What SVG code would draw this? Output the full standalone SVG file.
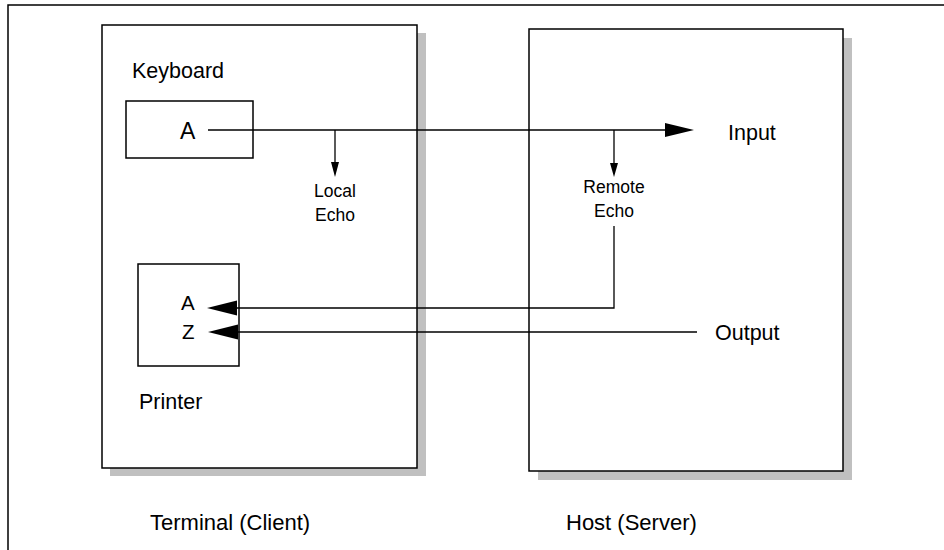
<svg xmlns="http://www.w3.org/2000/svg" width="944" height="550" viewBox="0 0 944 550">
<style>
.box{fill:#fff;stroke:#000;stroke-width:1.5}
.shadow{fill:#c0c0c0}
.ln{fill:none;stroke:#000;stroke-width:1.3}
.ah{fill:#000}
text{font-family:"Liberation Sans",Arial,sans-serif;fill:#000}
.lbl{font-size:21.5px}
.cap{font-size:22px}
.sm{font-size:17.5px}
</style>
<rect width="944" height="550" fill="#fff"/>
<g id="frame"><path d="M8 550 V5 H944" fill="none" stroke="#000" stroke-width="1.5"/></g>
<g id="terminal">
<rect class="shadow" x="110" y="33" width="316" height="443"/>
<rect class="box" x="102" y="25" width="315" height="443"/>
<text class="cap" x="150" y="530">Terminal (Client)</text>
</g>
<g id="host">
<rect class="shadow" x="538" y="38" width="314" height="442"/>
<rect class="box" x="529" y="29" width="314" height="442"/>
<text class="cap" x="566" y="530">Host (Server)</text>
</g>
<g id="keyboard">
<text class="lbl" x="132" y="78">Keyboard</text>
<rect class="box" x="126" y="101" width="127" height="57"/>
<text x="180" y="139" font-size="23">A</text>
</g>
<g id="printer">
<rect class="box" x="138" y="264" width="101" height="102"/>
<text x="181" y="310" font-size="20.5">A</text>
<text x="182" y="339" font-size="20.5">Z</text>
<text class="lbl" x="139" y="409">Printer</text>
</g>
<g id="input"><text class="lbl" x="728" y="140">Input</text></g>
<g id="output"><text class="lbl" x="715" y="340">Output</text></g>
<g id="local-echo"><text class="sm" x="335" y="197" text-anchor="middle">Local</text><text class="sm" x="335" y="221" text-anchor="middle">Echo</text></g>
<g id="remote-echo"><text class="sm" x="614" y="193" text-anchor="middle">Remote</text><text class="sm" x="614" y="217" text-anchor="middle">Echo</text></g>
<g id="connectors">
<path class="ln" d="M208 130 H668"/>
<polygon class="ah" points="694,130 665,123 665,137"/>
<path class="ln" d="M335 130 V164"/>
<polygon class="ah" points="335,177 331,162 339,162"/>
<path class="ln" d="M614 130 V164"/>
<polygon class="ah" points="614,177 610,163 618,163"/>
<path class="ln" d="M614 226 V308 H234"/>
<polygon class="ah" points="207,308 237,300.5 237,315.5"/>
<path class="ln" d="M697 332 H234"/>
<polygon class="ah" points="208,332 238,324.5 238,339.5"/>
</g>
</svg>
